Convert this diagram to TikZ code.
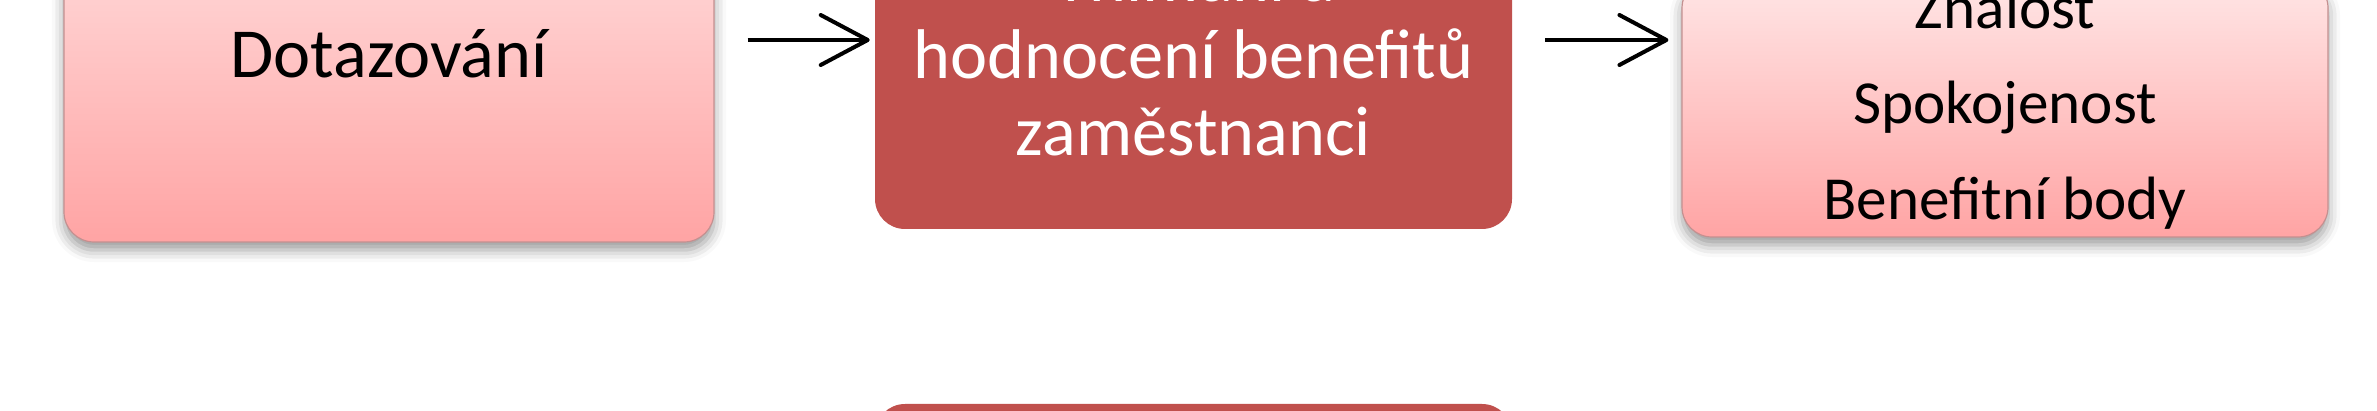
\documentclass[tikz,border=0pt]{standalone}
\usepackage{fontspec}
\setmainfont{Carlito}
\usetikzlibrary{arrows.meta,shadows.blur}

\definecolor{boxred}{HTML}{C0504D}
\definecolor{pinktop}{HTML}{FFE6E6}
\definecolor{pinkbot}{HTML}{FFA4A4}
\definecolor{pinkedge}{HTML}{C49090}
\newcommand{\pxu}{0.025cm}

\begin{document}
\begin{tikzpicture}[x=0.025cm, y=-0.025cm]
  \tikzset{>={Straight Barb[length=1.175cm,width=1.25cm,round]}}
  \tikzset{
    lightbox/.style={rounded corners=0.75cm, top color=pinktop, bottom color=pinkbot,
      draw=pinkedge, line width=0.03cm, inner sep=0pt, align=center,
      blur shadow={shadow xshift=0cm, shadow yshift=-0.2cm,
        shadow blur radius=0.3cm, shadow opacity=40}},
    darkbox/.style={rounded corners=0.75cm, fill=boxred, text=white,
      inner sep=0pt, align=center},
    flow/.style={->, line width=0.1cm, shorten <=0.825cm}
  }

  \useasboundingbox (0,0) rectangle (2377,411);
  \clip (0,0) rectangle (2377,411);

  \node[lightbox, minimum width=650*\pxu, minimum height=377*\pxu,
    font=\fontsize{50}{60}\selectfont] (dotaz) at (389,53.5) {Dotazování};
  \node[darkbox, minimum width=637*\pxu, minimum height=348*\pxu,
    font=\fontsize{50}{54.7}\selectfont] (vnimani) at (1193.5,55)
    {Vnímání a\\hodnocení benefitů\\zaměstnanci};
  \node[lightbox, minimum width=646*\pxu, minimum height=259*\pxu,
    font=\fontsize{43.5}{68}\selectfont] (znalost) at (2005,107.5)
    {Znalost\\Spokojenost\\Benefitní body};
  \node[darkbox, minimum width=637*\pxu, minimum height=300*\pxu] (dalsi) at (1193.5,554) {};

  % arrows between the boxes
  \coordinate (arrowrow) at (0,40);
  \draw[flow, shorten >=0.125cm] (dotaz.east |- arrowrow) -- (vnimani.west |- arrowrow);
  \draw[flow, shorten >=0.325cm] (vnimani.east |- arrowrow) -- (znalost.west |- arrowrow);
\end{tikzpicture}
\end{document}
